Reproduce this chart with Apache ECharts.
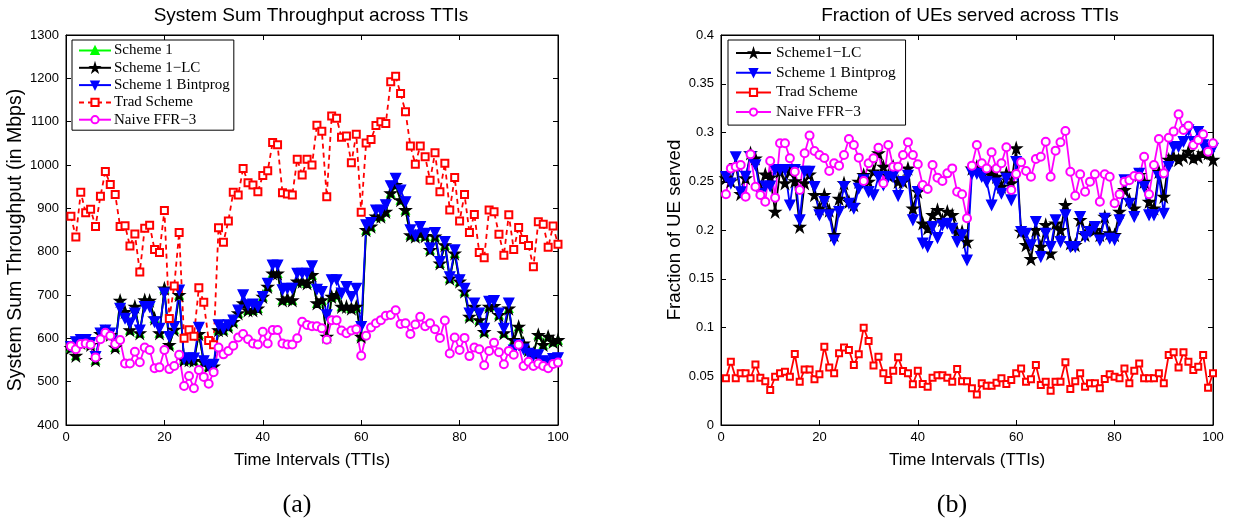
<!DOCTYPE html>
<html>
<head>
<meta charset="utf-8">
<script src="https://cdn.jsdelivr.net/npm/echarts@6/dist/echarts.min.js"></script>
<style>
html,body{margin:0;padding:0;background:#fff;}
#c{width:1233px;height:520px;}
</style>
</head>
<body>
<div id="c"></div>
<script>
// ---------- Data ----------
const tti = Array.from({length: 100}, (_, i) => i + 1);

// (a) System Sum Throughput (Mbps)
const aScheme1LC = [578,560,590,592,585,550,610,615,608,579,
687,661,619,673,612,688,687,646,612,715,
585,620,700,550,550,548,610,545,535,535,
619,619,627,638,658,681,665,665,669,696,
719,750,750,688,692,688,731,731,727,746,
681,688,604,696,700,673,673,669,673,604,
850,858,881,881,892,935,954,919,896,838,
835,842,836,804,835,773,815,738,796,731,
708,650,673,642,615,673,675,654,612,669,
596,627,588,573,565,608,585,604,592,596];
const aScheme1 = [578,560,590,592,585,550,610,615,608,579,
687,661,619,673,612,688,687,646,612,715,
585,620,700,550,550,548,610,545,535,535,
619,619,627,638,658,681,665,665,669,696,
719,750,750,688,692,688,731,731,727,746,
681,688,604,696,700,673,673,669,673,604,
850,858,881,881,892,935,954,919,896,838,
835,842,836,804,835,773,815,738,796,731,
708,650,673,642,615,673,675,654,612,669,
596,627,588,573,565,608,585,604,592,596];
const aBintprog = [581,592,597,597,590,558,612,619,612,590,
669,646,635,658,619,673,673,638,623,704,
604,627,711,553,555,554,625,548,538,540,
631,623,631,642,665,700,677,679,673,696,
727,769,769,712,715,715,750,750,750,767,
713,708,654,735,735,704,719,696,715,627,
862,867,896,895,908,952,969,942,915,850,
838,858,842,808,844,777,823,742,804,735,
715,658,681,658,623,685,687,658,623,681,
573,585,575,565,560,562,548,545,553,555];
const aTrad = [882,834,937,890,898,858,928,985,955,932,
858,860,813,841,753,854,861,805,798,895,
646,721,844,600,620,605,717,683,595,585,
855,822,871,937,931,992,959,954,938,976,
987,1052,1047,936,933,931,1013,977,1013,1000,
1092,1078,927,1113,1108,1064,1067,1005,1071,891,
1051,1059,1091,1100,1096,1192,1205,1165,1123,1044,
1002,1044,1019,965,1028,938,1004,896,971,871,
932,844,886,798,786,896,892,840,792,885,
805,856,828,814,765,869,863,810,859,817];
const aNaive = [582,575,587,588,585,556,598,613,606,587,
596,542,542,569,545,579,573,531,533,573,
529,536,562,490,513,485,527,511,495,522,
579,563,571,583,602,610,598,588,586,615,
588,619,619,588,586,586,600,638,631,628,
628,623,597,642,642,618,612,618,621,560,
606,625,635,642,652,654,665,633,635,610,
632,650,628,635,621,601,641,565,602,573,
601,559,579,575,538,571,590,568,540,571,
562,585,536,546,536,542,536,531,541,544];

// (b) Fraction of UEs served
const bScheme1LC = [.253,.25,.2667,.237,.253,.2787,.2735,.242,.257,.254,
.2188,.26,.248,.26,.25,.2034,.248,.257,.236,.222,
.236,.22,.195,.232,.248,.229,.2256,.2496,.2564,.2496,
.26,.2787,.265,.256,.265,.2496,.2496,.2632,.2222,.2393,
.2068,.2017,.2154,.2205,.2103,.2188,.2154,.1983,.1983,.188,
.263,.265,.263,.2598,.258,.2547,.2444,.258,.248,.2838,
.1983,.1846,.1703,.2,.1829,.2051,.176,.2068,.2,.2256,
.1863,.1846,.2103,.1949,.2017,.2,.1949,.2137,.1966,.1949,
.2188,.241,.2308,.2222,.2564,.2496,.229,.2222,.2598,.2342,
.272,.2752,.272,.2752,.2803,.2735,.2752,.2787,.2787,.272];
const bBintprog = [.2547,.248,.275,.239,.255,.275,.2667,.2376,.245,.245,
.262,.262,.262,.2256,.262,.2103,.26,.26,.2444,.2154,
.229,.2154,.1897,.2188,.2444,.2274,.2222,.2427,.2513,.2393,
.236,.2547,.2462,.2547,.2547,.2352,.2496,.256,.2103,.2393,
.1864,.1829,.2034,.1921,.2051,.2068,.2017,.188,.1949,.1692,
.258,.258,.2547,.2496,.2256,.248,.2376,.253,.2308,.27,
.1983,.1966,.1846,.2085,.1726,.1966,.1829,.2103,.188,.2154,
.1829,.1829,.2137,.1932,.1983,.2034,.1897,.212,.1915,.19,
.2103,.2513,.2274,.2137,.258,.2444,.2154,.2154,.2547,.2171,
.265,.2855,.2855,.2906,.3026,.2906,.3009,.2872,.2838,.2838];
const bTrad = [.0479,.065,.048,.053,.053,.048,.062,.0485,.045,.0359,
.0496,.053,.0547,.0496,.0728,.0444,.057,.057,.0468,.052,
.0803,.059,.053,.0735,.0796,.0769,.0615,.0725,.0998,.0862,
.0609,.070,.053,.0462,.0557,.0694,.0555,.053,.0417,.0557,
.042,.0393,.0485,.051,.051,.0485,.0444,.0574,.045,.045,
.0376,.0314,.0427,.0403,.0403,.0434,.0479,.042,.0462,.053,
.058,.0444,.0468,.0615,.041,.0444,.0352,.0444,.0444,.0643,
.0369,.045,.053,.0393,.0427,.0427,.0376,.0472,.052,.0496,
.0479,.058,.0427,.0557,.0632,.0479,.0479,.0479,.053,.0427,
.0718,.0745,.059,.0745,.065,.0564,.0598,.0718,.0383,.053];
const bNaive = [.2366,.2632,.265,.2667,.2342,.2776,.2444,.2359,.229,.2708,
.2332,.2889,.2889,.2735,.2598,.241,.2787,.2968,.281,.277,
.2738,.2605,.2684,.266,.277,.2933,.2872,.2742,.2503,.2684,
.2735,.2844,.2479,.2872,.265,.265,.277,.29,.277,.2674,
.2462,.242,.2667,.2537,.2503,.2581,.2632,.2393,.2366,.212,
.266,.2872,.2684,.2632,.2797,.2632,.2684,.2848,.241,.2574,
.2694,.2605,.2547,.2728,.2752,.2906,.2547,.2814,.29,.3015,
.2598,.2352,.2571,.2393,.2496,.2571,.229,.2571,.2547,.2274,
.2366,.2496,.251,.2554,.2547,.2752,.2366,.2667,.2933,.2581,
.2947,.3009,.3186,.3026,.307,.2872,.2923,.2981,.2803,.2889];

const titleA = 'System Sum Throughput across TTIs';
const titleB = 'Fraction of UEs served across TTIs';
const xName = 'Time Intervals (TTIs)';
const yNameA = 'System Sum Throughput (in Mbps)';
const yNameB = 'Fraction of UE served';
const legendA = ['Scheme 1', 'Scheme 1\u2212LC', 'Scheme 1 Bintprog', 'Trad Scheme', 'Naive FFR\u22123'];
const legendB = ['Scheme1\u2212LC', 'Scheme 1 Bintprog ', 'Trad Scheme ', 'Naive FFR\u22123 '];

// ---------- Chart ----------
const STAR = 'path://M50,0 L61.2,34.5 L97.6,34.5 L68.2,55.9 L79.4,90.5 L50,69.1 L20.6,90.5 L31.8,55.9 L2.4,34.5 L38.8,34.5 Z';
const SANS = '"Liberation Sans", Arial, sans-serif';
const SERIF = '"Liberation Serif", "Times New Roman", serif';
const pairs = (ys) => tti.map((x, i) => [x, ys[i]]);

const chart = echarts.init(document.getElementById('c'), null, {renderer: 'canvas'});

function xAx(grid, pos, show) {
  return {
    gridIndex: grid, type: 'value', min: 0, max: 100, interval: 20, position: pos,
    name: show ? xName : '', nameLocation: 'middle', nameGap: 26.5,
    nameTextStyle: {fontFamily: SANS, fontSize: 17, color: '#000'},
    axisLine: {show: true, onZero: false, lineStyle: {color: '#000', width: 1}},
    axisTick: {show: true, inside: true, length: 5, lineStyle: {color: '#000'}},
    axisLabel: {show: show, fontFamily: SANS, fontSize: 13, color: '#000', margin: 6},
    splitLine: {show: false}
  };
}
function yAx(grid, pos, show, min, max, interval, name, gap, nameSize, fmt, namePad) {
  return {
    gridIndex: grid, type: 'value', min: min, max: max, interval: interval, position: pos,
    name: show ? name : '', nameLocation: 'middle', nameGap: gap, nameRotate: 90,
    nameTextStyle: {fontFamily: SANS, fontSize: nameSize, color: '#000', padding: namePad || 0},
    axisLine: {show: true, onZero: false, lineStyle: {color: '#000', width: 1}},
    axisTick: {show: true, inside: true, length: 5, lineStyle: {color: '#000'}},
    axisLabel: {show: show, fontFamily: SANS, fontSize: 13, color: '#000', margin: 7, formatter: fmt},
    splitLine: {show: false}
  };
}
function ser(name, xi, yi, data, color, symbol, size, opts) {
  return Object.assign({
    name: name, type: 'line', xAxisIndex: xi, yAxisIndex: yi, data: pairs(data),
    symbol: symbol, symbolSize: size, showSymbol: true,
    lineStyle: {color: color, width: 1.8},
    itemStyle: {color: color, borderColor: color, borderWidth: 1.3},
    emphasis: {disabled: true}, z: 2
  }, opts || {});
}

const fmtA = v => String(v);
const fmtB = v => String(parseFloat(v.toFixed(2)));

const option = {
  animation: false,
  backgroundColor: '#fff',
  title: [
    {text: titleA, left: 306, top: 1, textAlign: 'center', textStyle: {fontFamily: SANS, fontSize: 19, fontWeight: 'normal', color: '#000'}},
    {text: titleB, left: 965, top: 1, textAlign: 'center', textStyle: {fontFamily: SANS, fontSize: 19, fontWeight: 'normal', color: '#000'}}
  ],
  grid: [
    {left: 66, top: 35, width: 492, height: 390, show: true, borderColor: '#000', borderWidth: 1, backgroundColor: '#fff'},
    {left: 721, top: 35, width: 492, height: 390, show: true, borderColor: '#000', borderWidth: 1, backgroundColor: '#fff'}
  ],
  xAxis: [xAx(0, 'bottom', true), xAx(0, 'top', false), xAx(1, 'bottom', true), xAx(1, 'top', false)],
  yAxis: [
    yAx(0, 'left', true, 400, 1300, 100, yNameA, 40, 19.5, fmtA, [0, 20, 0, 0]),
    yAx(0, 'right', false, 400, 1300, 100, '', 0, 19.5, fmtA),
    yAx(1, 'left', true, 0, 0.4, 0.05, yNameB, 36.5, 18.7, fmtB),
    yAx(1, 'right', false, 0, 0.4, 0.05, '', 0, 18.7, fmtB)
  ],
  legend: [
    {
      data: legendA.map(n => ({name: n})), orient: 'vertical', left: 72, top: 40,
      itemWidth: 32, itemHeight: 9, itemGap: 2.3, padding: [3, 4, 3, 6],
      backgroundColor: '#fff', borderColor: '#000', borderWidth: 1, borderRadius: 0,
      textStyle: {fontFamily: SERIF, fontSize: 15, color: '#000', padding: [0, 0, 0, -2]},
      selectedMode: false
    },
    {
      data: legendB.map(n => ({name: n})), orient: 'vertical', left: 728, top: 40,
      itemWidth: 35, itemHeight: 9, itemGap: 3.7, padding: [5, 6, 5, 7],
      backgroundColor: '#fff', borderColor: '#000', borderWidth: 1, borderRadius: 0,
      textStyle: {fontFamily: SERIF, fontSize: 15.5, color: '#000'},
      selectedMode: false
    }
  ],
  graphic: [
    {type: 'text', x: 297, y: 505, style: {text: '(a)', font: '26px ' + SERIF, fill: '#000', align: 'center', verticalAlign: 'middle'}},
    {type: 'text', x: 952, y: 505, style: {text: '(b)', font: '26px ' + SERIF, fill: '#000', align: 'center', verticalAlign: 'middle'}}
  ],
  series: [
    ser(legendA[0], 0, 0, aScheme1, '#00ff00', 'triangle', 8),
    ser(legendA[1], 0, 0, aScheme1LC, '#000000', STAR, 11),
    ser(legendA[2], 0, 0, aBintprog, '#0000ff', 'triangle', 10, {symbolRotate: 180}),
    ser(legendA[3], 0, 0, aTrad, '#ff0000', 'emptyRect', 7, {lineStyle: {color: '#ff0000', width: 1.8, type: [5, 4]}}),
    ser(legendA[4], 0, 0, aNaive, '#ff00ff', 'emptyCircle', 8),
    ser(legendB[0], 2, 2, bScheme1LC, '#000000', STAR, 11),
    ser(legendB[1], 2, 2, bBintprog, '#0000ff', 'triangle', 10, {symbolRotate: 180}),
    ser(legendB[2], 2, 2, bTrad, '#ff0000', 'emptyRect', 6),
    ser(legendB[3], 2, 2, bNaive, '#ff00ff', 'emptyCircle', 8)
  ]
};
chart.setOption(option);
</script>
</body>
</html>
